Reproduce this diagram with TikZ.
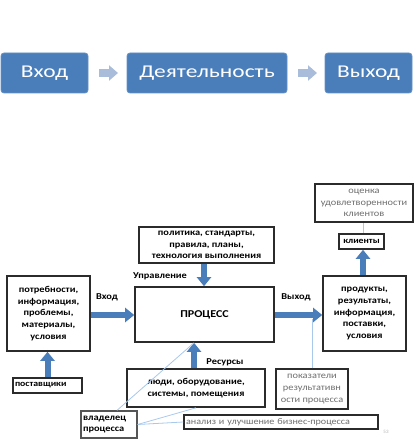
\documentclass[tikz,border=0pt]{standalone}
\usepackage{fontspec}
\setmainfont{Carlito}
\newfontfamily\wfont[FakeStretch=1.15]{Carlito}
\newfontfamily\tfont[FakeStretch=1.3]{Carlito}
\usetikzlibrary{arrows.meta}
\definecolor{mblue}{HTML}{4A7EBB}
\definecolor{lblue}{HTML}{A9BCDA}
\definecolor{tline}{HTML}{A8C8EC}
\definecolor{bdr}{HTML}{2B2B2B}
\definecolor{gtext}{HTML}{6E6E6E}
\tikzset{
  topbox/.style={draw=mblue!85!white, line width=0.8pt, fill=mblue, rounded corners=3pt,
    text=white, font=\tfont\fontsize{18}{21}\selectfont, inner sep=0pt},
  toparrow/.style={line width=8pt, draw=lblue, -{Triangle[width=15pt,length=9pt]}},
  bbox/.style={draw=bdr, line width=1.6pt, fill=white, inner sep=1pt, align=center,
    font=\wfont\bfseries\fontsize{9}{11.7}\selectfont},
  gbox/.style={draw=bdr, line width=1.1pt, fill=white, inner sep=1pt, align=center,
    text=gtext, font=\wfont\fontsize{9}{11.7}\selectfont},
  blockarrow/.style={line width=6pt, draw=mblue, -{Triangle[width=14pt,length=9pt]}},
  thinline/.style={draw=tline, line width=0.8pt},
  lbl/.style={font=\wfont\bfseries\fontsize{9}{11}\selectfont, inner sep=0pt}
}
\begin{document}
\begin{tikzpicture}[x=1pt,y=-1pt]
\useasboundingbox (0,0) rectangle (419,443);
% top row
\node[topbox, minimum width=87pt, minimum height=40pt] (tin) at (44.5,73) {Вход};
\node[topbox, minimum width=160pt, minimum height=40pt] (tact) at (207,73) {Деятельность};
\node[topbox, minimum width=87pt, minimum height=40pt] (tout) at (368.5,73) {Выход};
\coordinate (a1s) at (99,73);
\coordinate (a1e) at (118,73);
\coordinate (a2s) at (298,73);
\coordinate (a2e) at (317,73);
\draw[toparrow] (a1s) -- (a1e);
\draw[toparrow] (a2s) -- (a2e);

% bottom diagram boxes
\node[bbox, minimum width=83pt, minimum height=75pt] (in) at (48.5,313.5)
  {потребности,\\информация,\\проблемы,\\материалы,\\условия};
\node[bbox, minimum width=135pt, minimum height=36pt] (ctrl) at (206.5,245)
  {политика, стандарты,\\правила, планы,\\технология выполнения};
\node[bbox, minimum width=139pt, minimum height=55pt, font=\wfont\bfseries\fontsize{10.5}{12}\selectfont] (proc) at (204.5,314.5) {ПРОЦЕСС};
\node[bbox, minimum width=83pt, minimum height=75pt] (out) at (364.5,313.5)
  {продукты,\\результаты,\\информация,\\поставки,\\условия};
\node[bbox, minimum width=45pt, minimum height=15pt, font=\wfont\bfseries\fontsize{8.5}{9}\selectfont] (kl) at (361.5,241.5) {клиенты};
\node[gbox, minimum width=98pt, minimum height=38pt] (ocen) at (364,203)
  {оценка\\удовлетворенности\\клиентов};
\node[bbox, minimum width=138pt, minimum height=38pt] (res) at (196,388)
  {люди, оборудование,\\системы, помещения};
\node[bbox, minimum width=69pt, minimum height=15pt, font=\wfont\bfseries\fontsize{8.5}{9}\selectfont, align=left, text width=65pt] (sup) at (47.5,385.5) {поставщики};
\node[gbox, line width=1.4pt, minimum width=72pt, minimum height=40pt] (pok) at (312,389)
  {показатели\\результативн\\ости процесса};
\node[bbox, line width=1.3pt, draw=bdr!80, minimum width=56pt, minimum height=27pt, align=left, text width=52pt] (vl) at (109,424.5)
  {владелец\\процесса};
\node[gbox, line width=1.5pt, minimum width=194pt, minimum height=14pt, align=left, text width=190pt, font=\wfont\fontsize{8.8}{10}\selectfont] (an) at (281,422)
  {анализ и улучшение бизнес-процесса};
\node[font=\fontsize{5}{6}\selectfont, text=gray!60, inner sep=0pt] (pg) at (386,432) {53};

% labels
\node[lbl] (lin) at (107,297) {Вход};
\node[lbl] (lout) at (296,297) {Выход};
\node[lbl] (lctrl) at (160,276) {Управление};
\node[lbl] (lres) at (225,362) {Ресурсы};

% block arrows
\draw[blockarrow] (in.east |- 0,315) -- (proc.west |- 0,315);
\draw[blockarrow] (proc.east |- 0,315) -- (out.west |- 0,315);
\draw[blockarrow] ([xshift=-2.5pt]ctrl.south) -- ([xshift=-2.5pt]ctrl.south |- proc.north);
\draw[blockarrow] ([xshift=-2pt]res.north) -- ([xshift=-2pt]res.north |- proc.south);
\draw[blockarrow] (sup.north) -- (sup.north |- in.south);
\draw[blockarrow] ([xshift=1.5pt]kl.south |- out.north) -- ([xshift=1.5pt]kl.south);

% thin lines
\draw[thinline] ([xshift=1.5pt]kl.north) -- ([xshift=1.5pt]kl.north |- ocen.south);
\draw[thinline] (pok.north) -- (pok.north |- 0,319);
\draw[thinline] ([xshift=8pt]vl.north) -- ([xshift=-2pt]res.north |- proc.south);
\draw[thinline] (vl.east) -- (res.south);
\draw[thinline] (vl.east) -- (an.west);
\end{tikzpicture}
\end{document}
